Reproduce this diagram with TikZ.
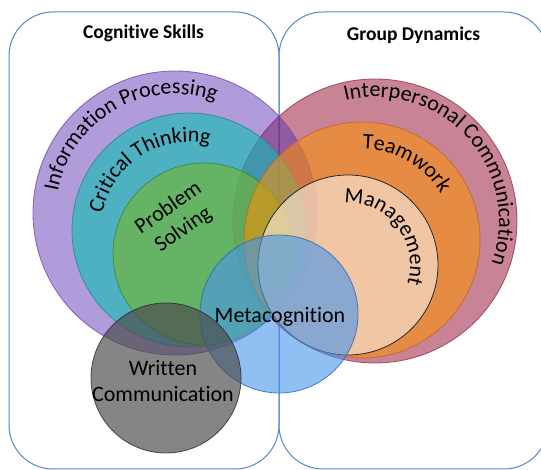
\documentclass[tikz,border=0pt]{standalone}
\usepackage{fontspec}
\setmainfont{Carlito}[Ligatures=NoCommon]
\usetikzlibrary{decorations.text}

\definecolor{panelc}{RGB}{85,135,205}
% fills (used half see-through)
\definecolor{interc}{RGB}{145,9,41}
\definecolor{infoc}{RGB}{90,45,180}
\definecolor{critc}{RGB}{13,192,177}
\definecolor{probc}{RGB}{117,182,42}
\definecolor{teamc}{RGB}{255,145,2}
\definecolor{managc}{RGB}{250,238,230}
\definecolor{metac}{RGB}{70,150,235}
\definecolor{writc}{RGB}{75,75,75}
% outlines
\definecolor{interd}{RGB}{150,45,85}
\definecolor{infod}{RGB}{105,75,170}
\definecolor{critd}{RGB}{40,130,150}
\definecolor{probd}{RGB}{60,130,60}
\definecolor{teamd}{RGB}{190,100,40}
\definecolor{metad}{RGB}{50,100,170}
\definecolor{writd}{RGB}{40,40,40}

\newcommand{\ringfont}{\fontsize{22}{26}\selectfont}

\tikzset{
  panel/.style={draw=panelc, line width=1pt, rounded corners=44pt},
  ring/.style 2 args={fill=#1, draw=#2, fill opacity=0.6, draw opacity=0.8, line width=0.8pt},
  arctext/.style={decorate, decoration={text along path, text align=center, text={|\ringfont|#1}}}
}

\begin{document}
\begin{tikzpicture}[x=1pt,y=1pt]
\clip (0,0) rectangle (541,470);
% the two panels
\draw[panel] (9,1) rectangle (279,458);
\draw[panel] (279,1) rectangle (548,458);
\node[font=\bfseries\fontsize{19.5}{22}\selectfont] (cogtitle) at (143.5,437) {Cognitive Skills};
\node[font=\bfseries\fontsize{19.5}{22}\selectfont] (grptitle) at (413.5,435) {Group Dynamics};

% centres of the circles
\coordinate (inter) at (375,249);
\coordinate (team) at (362,230);
\coordinate (manag) at (348,205);
\coordinate (info) at (175,257);
\coordinate (crit) at (189,240);
\coordinate (prob) at (204,216);
\coordinate (meta) at (279,156);
\coordinate (writ) at (166,92);

% rings, back to front
\draw[ring={interc}{interd}, fill opacity=0.5] (inter) circle [radius=142];
\draw[ring={infoc}{infod}, fill opacity=0.48] (info) circle [radius=142];
\draw[ring={critc}{critd}] (crit) circle [radius=117];
\draw[ring={probc}{probd}] (prob) circle [radius=91];
\draw[ring={teamc}{teamd}, fill opacity=0.55] (team) circle [radius=118];
\draw[ring={managc}{black!85}, draw opacity=1] (manag) circle [radius=90];

% the two in front
\draw[ring={metac}{metad}] (meta) circle [radius=79];
\draw[ring={writc}{writd}, fill opacity=0.68] (writ) circle [radius=75];

% curved labels
\path[arctext={Information Processing}] (info) ++(185:119) arc [start angle=185, end angle=55, radius=119];
\path[arctext={Critical Thinking}] (crit) ++(183:88) arc [start angle=183, end angle=63, radius=88];
\path[arctext={Interpersonal Communication}] (inter) ++(122:124) arc [start angle=122, end angle=-38, radius=124];
\path[arctext={Teamwork}] (team) ++(104:91) arc [start angle=104, end angle=16, radius=91];
\path[arctext={Management}] (manag) ++(114:62) arc [start angle=114, end angle=-38, radius=62];

% straight labels
\node[rotate=35, align=center, font=\ringfont] (problab) at (176,251) {Problem\\Solving};
\node[font=\ringfont] (metalab) at (280,153) {Metacognition};
\node[align=center, font=\ringfont] (writlab) at (163,89) {Written\\Communication};
\end{tikzpicture}
\end{document}
